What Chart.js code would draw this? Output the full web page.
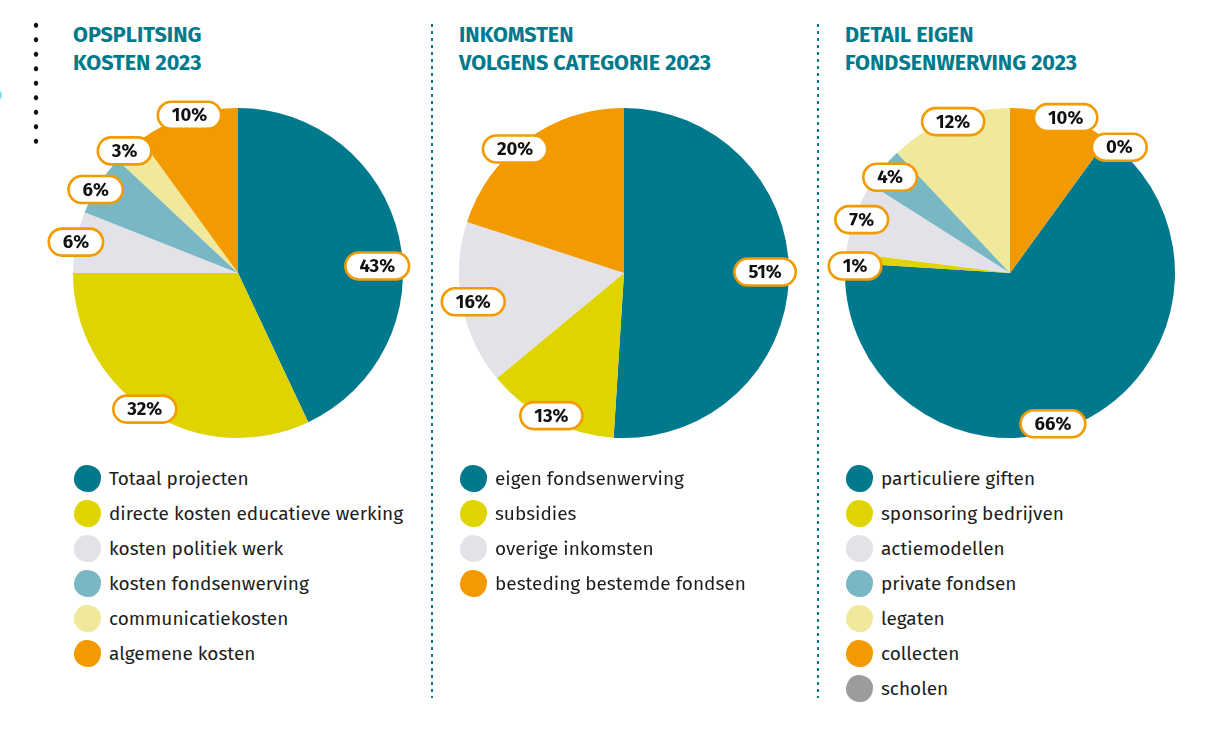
<!DOCTYPE html>
<html><head><meta charset="utf-8">
<script src="https://cdn.jsdelivr.net/npm/chart.js@4.4.1/dist/chart.umd.min.js"></script>
<style>
html,body{margin:0;padding:0;background:#fff;}
body{width:1223px;height:735px;position:relative;overflow:hidden;font-family:"Fira Sans",Lato,"Noto Sans",sans-serif;}
.title{position:absolute;top:21px;font-weight:700;font-size:21.6px;line-height:28px;color:#00798c;}
.legend{position:absolute;top:460.5px;}
.row{position:relative;height:35px;}
.blob{position:absolute;left:0;top:4px;width:27px;height:27px;border-radius:48% 54% 46% 52% / 54% 46% 55% 47%;}
.row span{position:absolute;left:35px;top:0;line-height:35px;font-size:19px;color:#1d1d1b;white-space:nowrap;}
.sep{position:absolute;top:22px;width:4px;height:676px;background-image:radial-gradient(circle,#00798c 1.1px,transparent 1.5px);background-size:4px 7px;background-repeat:repeat-y;}
.dots{position:absolute;left:33px;top:18px;width:6px;height:131px;background-image:radial-gradient(circle,#111 2.1px,transparent 2.6px);background-size:6px 14.5px;background-repeat:repeat-y;}
canvas{position:absolute;}
</style></head>
<body>
<div class="dots"></div>
<div style="position:absolute;left:-6px;top:90px;width:8px;height:10px;border-radius:50%;background:#7fdcec;"></div>
<div class="sep" style="left:430px"></div>
<div class="sep" style="left:816px"></div>
<div id="root"></div>
<script>
// ---- data ----
const titles1 = ["OPSPLITSING", "KOSTEN 2023"];
const categories1 = ["Totaal projecten", "directe kosten educatieve werking", "kosten politiek werk", "kosten fondsenwerving", "communicatiekosten", "algemene kosten"];
const values1 = [43, 32, 6, 6, 3, 10];

const titles2 = ["INKOMSTEN", "VOLGENS CATEGORIE 2023"];
const categories2 = ["eigen fondsenwerving", "subsidies", "overige inkomsten", "besteding bestemde fondsen"];
const values2 = [51, 13, 16, 20];

const titles3 = ["DETAIL EIGEN", "FONDSENWERVING 2023"];
const categories3 = ["particuliere giften", "sponsoring bedrijven", "actiemodellen", "private fondsen", "legaten", "collecten", "scholen"];
const values3 = [66, 1, 7, 4, 12, 10, 0];

// ---- styles ----
const TEAL = "#00798c", YEL = "#dfd300", LGRAY = "#e3e2e8", LBLUE = "#79b7c4", PYEL = "#f0e89a", ORA = "#f39a00", GRAY = "#9d9c9a";
const colors1 = [TEAL, YEL, LGRAY, LBLUE, PYEL, ORA];
const colors2 = [TEAL, YEL, LGRAY, ORA];
const colors3 = [TEAL, YEL, LGRAY, LBLUE, PYEL, ORA, GRAY];

// label placement tweaks: [angle offset in degrees, radius factor]
const nudge1 = [[9.7,0.845],[2,1],[0,1],[-2,1],[-1.5,1.01],[0.9,1]];
const nudge2 = [[-2.2,0.855],[0,0.97],[0,0.93],[-5.3,1]];
const nudge3 = [[9.3,0.95],[-2.8,0.94],[0,0.955],[-1,0.93],[1,0.98],[1.7,1],[5,1.01]];

const charts = [
  {cx:238, titles:titles1, cats:categories1, vals:values1, cols:colors1, nudge:nudge1, rot:0},
  {cx:624, titles:titles2, cats:categories2, vals:values2, cols:colors2, nudge:nudge2, rot:0},
  {cx:1010, titles:titles3, cats:categories3, vals:values3, cols:colors3, nudge:nudge3, rot:36}
];
const CY = 273, R = 165, SIZE = 420;

const pctLabels = {
  id: 'pctLabels',
  afterDatasetsDraw(chart, args, opts) {
    const ctx = chart.ctx;
    const meta = chart.getDatasetMeta(0);
    const data = chart.data.datasets[0].data;
    ctx.save();
    ctx.font = "700 18.5px 'Fira Sans', Lato, 'Noto Sans', sans-serif";
    ctx.textAlign = "center"; ctx.textBaseline = "middle";
    meta.data.forEach((arc, i) => {
      const p = arc.getProps(['x','y','startAngle','endAngle','outerRadius'], true);
      const adj = (opts.nudge && opts.nudge[i]) || [0,1];
      const a = (p.startAngle + p.endAngle)/2 + adj[0]*Math.PI/180;
      const r = p.outerRadius * adj[1];
      const x = p.x + Math.cos(a)*r, y = p.y + Math.sin(a)*r;
      const txt = data[i] + "%";
      const w = ctx.measureText(txt).width + 28, h = 27;
      const bx = x - w/2, by = y - h/2, rr = h/2;
      ctx.beginPath();
      ctx.roundRect(bx, by, w, h, rr);
      ctx.fillStyle = "#fff"; ctx.fill();
      ctx.lineWidth = 2.6; ctx.strokeStyle = ORA; ctx.stroke();
      ctx.fillStyle = "#111";
      ctx.fillText(txt, x, y + 1);
    });
    ctx.restore();
  }
};

const root = document.getElementById('root');
charts.forEach((c, k) => {
  const left = c.cx - R; // text/legend left edge
  const t = document.createElement('div');
  t.className = 'title'; t.style.left = left + 'px';
  t.innerHTML = c.titles.join('<br>');
  root.appendChild(t);

  const lg = document.createElement('div');
  lg.className = 'legend'; lg.style.left = (left + 1) + 'px';
  c.cats.forEach((name, i) => {
    const row = document.createElement('div'); row.className = 'row';
    const b = document.createElement('div'); b.className = 'blob'; b.style.background = c.cols[i];
    const s = document.createElement('span'); s.textContent = name;
    row.appendChild(b); row.appendChild(s); lg.appendChild(row);
  });
  root.appendChild(lg);

  const cv = document.createElement('canvas');
  cv.width = SIZE; cv.height = SIZE;
  cv.style.left = (c.cx - SIZE/2) + 'px'; cv.style.top = (CY - SIZE/2) + 'px';
  cv.style.width = SIZE + 'px'; cv.style.height = SIZE + 'px';
  root.appendChild(cv);
  new Chart(cv, {
    type: 'pie',
    data: { labels: c.cats, datasets: [{ data: c.vals, backgroundColor: c.cols, borderWidth: 0, radius: R, hoverOffset: 0 }] },
    options: {
      responsive: false, animation: false, rotation: c.rot,
      layout: { padding: 0 },
      events: [],
      plugins: { legend: { display: false }, tooltip: { enabled: false }, pctLabels: { nudge: c.nudge } }
    },
    plugins: [pctLabels]
  });
});
</script>
</body></html>
